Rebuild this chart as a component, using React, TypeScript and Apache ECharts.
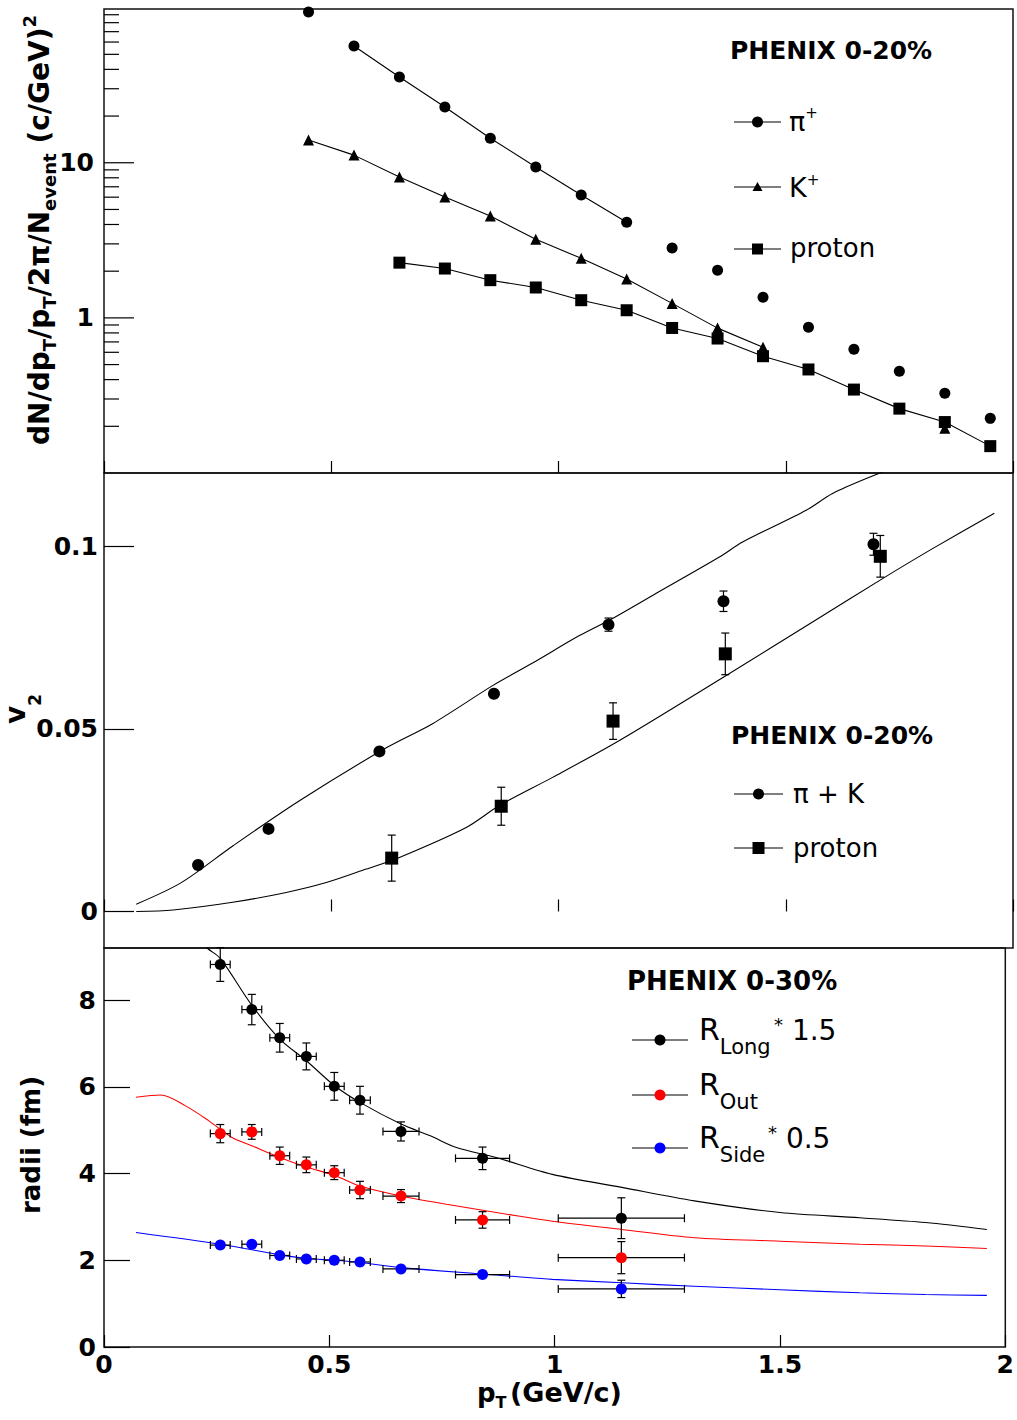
import React, { useEffect, useRef } from "react";
import * as echarts from "echarts";

const FONT = "DejaVu Sans";

// ---------- Top panel: invariant spectra ----------
const pionPt = [0.45, 0.55, 0.65, 0.75, 0.85, 0.95, 1.05, 1.15, 1.25, 1.35, 1.45, 1.55, 1.65, 1.75, 1.85, 1.95];
const pionSpec = [93.8, 56.6, 35.7, 22.9, 14.4, 9.38, 6.19, 4.14, 2.82, 2.03, 1.36, 0.87, 0.628, 0.453, 0.327, 0.225];
const pionFitPt = [0.55, 0.65, 0.75, 0.85, 0.95, 1.05, 1.15];
const pionFit = [56.6, 35.7, 22.9, 14.4, 9.38, 6.19, 4.14];

const kaonPt = [0.45, 0.55, 0.65, 0.75, 0.85, 0.95, 1.05, 1.15, 1.25, 1.35, 1.45, 1.85];
const kaonSpec = [14.0, 11.2, 8.09, 6.01, 4.53, 3.21, 2.42, 1.78, 1.24, 0.859, 0.647, 0.194];
const kaonFitPt = [0.45, 0.55, 0.65, 0.75, 0.85, 0.95, 1.05, 1.15, 1.25, 1.35, 1.45];
const kaonFit = [14.0, 11.2, 8.09, 6.01, 4.53, 3.21, 2.42, 1.78, 1.24, 0.859, 0.647];

const protonPt = [0.65, 0.75, 0.85, 0.95, 1.05, 1.15, 1.25, 1.35, 1.45, 1.55, 1.65, 1.75, 1.85, 1.95];
const protonSpec = [2.27, 2.08, 1.75, 1.57, 1.30, 1.12, 0.861, 0.736, 0.566, 0.465, 0.345, 0.260, 0.213, 0.149];

const specMajorTicks = [1, 10];
const specMinorTicks = [0.2, 0.3, 0.4, 0.5, 0.6, 0.7, 0.8, 0.9, 2, 3, 4, 5, 6, 7, 8, 9, 20, 30, 40, 50, 60, 70, 80, 90];

// ---------- Middle panel: v2 ----------
const v2PiKPt = [0.207, 0.362, 0.606, 0.858, 1.110, 1.363, 1.693];
const v2PiK = [0.0127, 0.0226, 0.0438, 0.0596, 0.0785, 0.0849, 0.1005];
const v2PiKErr = [0.0008, 0.0008, 0.0008, 0.001, 0.0018, 0.0028, 0.003];

const v2ProtonPt = [0.633, 0.874, 1.120, 1.367, 1.708];
const v2Proton = [0.0146, 0.0288, 0.0521, 0.0705, 0.0972];
const v2ProtonErr = [0.0063, 0.0052, 0.005, 0.0057, 0.0057];

const v2PiKModelPt = [0.071, 0.17, 0.284, 0.43, 0.621, 0.723, 0.855, 0.943, 1.046, 1.119, 1.207, 1.354, 1.405, 1.545, 1.603, 1.695, 1.73];
const v2PiKModel = [0.002, 0.0079, 0.018, 0.0303, 0.0448, 0.0514, 0.0618, 0.068, 0.0755, 0.0802, 0.0865, 0.097, 0.1011, 0.1098, 0.1144, 0.1194, 0.121];
const v2ProtonModelPt = [0.071, 0.152, 0.283, 0.401, 0.489, 0.577, 0.65, 0.797, 0.870, 0.987, 1.134, 1.369, 1.559, 1.713, 1.823, 1.959];
const v2ProtonModel = [0.0, 0.0004, 0.0025, 0.0052, 0.0079, 0.0116, 0.0148, 0.023, 0.029, 0.0367, 0.0468, 0.0646, 0.0792, 0.0911, 0.0993, 0.109];
const v2TickValues = [0, 0.05, 0.1];

// ---------- Bottom panel: HBT radii ----------
const hbtPt = [0.258, 0.328, 0.39, 0.449, 0.511, 0.568, 0.659, 0.84, 1.148];
const hbtPtErr = [0.022, 0.022, 0.022, 0.022, 0.022, 0.023, 0.04, 0.06, 0.14];
const rLong = [8.82, 7.78, 7.13, 6.70, 6.01, 5.69, 4.97, 4.35, 2.97];
const rLongErr = [0.39, 0.35, 0.33, 0.31, 0.32, 0.32, 0.22, 0.26, 0.47];
const rOut = [4.92, 4.96, 4.41, 4.20, 4.02, 3.62, 3.48, 2.93, 2.06];
const rOutErr = [0.21, 0.17, 0.2, 0.18, 0.16, 0.2, 0.15, 0.19, 0.37];
const rSide = [2.35, 2.37, 2.11, 2.03, 2.0, 1.96, 1.80, 1.67, 1.34];
const rSideErr = [0.06, 0.06, 0.06, 0.05, 0.05, 0.05, 0.05, 0.05, 0.2];

const rLongModelPt = [0.215, 0.229, 0.258, 0.328, 0.39, 0.449, 0.511, 0.568, 0.659, 0.724, 0.782, 0.87, 0.995, 1.149, 1.31, 1.5, 1.677, 1.823, 1.959];
const rLongModel = [9.4, 9.2, 8.96, 7.88, 7.1, 6.6, 6.03, 5.64, 5.14, 4.87, 4.6, 4.37, 3.98, 3.68, 3.37, 3.10, 2.98, 2.87, 2.71];
const rOutModelPt = [0.071, 0.126, 0.181, 0.232, 0.284, 0.328, 0.39, 0.449, 0.511, 0.568, 0.659, 0.76, 0.907, 0.995, 1.149, 1.31, 1.5, 1.677, 1.823, 1.959];
const rOutModel = [5.76, 5.81, 5.56, 5.22, 4.83, 4.64, 4.37, 4.15, 3.96, 3.71, 3.48, 3.29, 3.04, 2.90, 2.71, 2.52, 2.44, 2.37, 2.33, 2.27];
const rSideModelPt = [0.071, 0.258, 0.39, 0.449, 0.511, 0.568, 0.659, 0.907, 0.995, 1.149, 1.31, 1.5, 1.677, 1.823, 1.959];
const rSideModel = [2.64, 2.37, 2.13, 2.04, 2.0, 1.95, 1.83, 1.63, 1.56, 1.48, 1.40, 1.32, 1.25, 1.21, 1.19];
const hbtTickValues = [0, 2, 4, 6, 8];

// ---------- helpers ----------
let measureCtx: CanvasRenderingContext2D | null = null;
function measure(t: string, size: number, weight: string) {
  if (!measureCtx) measureCtx = document.createElement("canvas").getContext("2d");
  measureCtx!.font = `${weight} ${size}px "${FONT}"`;
  return measureCtx!.measureText(t).width;
}

type Part = { t: string; s: number; w?: string; dy?: number; x?: number };
function runs(parts: Part[], x0: number, baseline: number, color = "#000") {
  let x = x0;
  const out: any[] = [];
  for (const p of parts) {
    const w = p.w || "normal";
    if (p.x !== undefined) x = p.x;
    out.push({
      type: "text",
      x,
      y: baseline + (p.dy || 0) - 0.35 * p.s,
      z: 20,
      style: { text: p.t, fontSize: p.s, fontWeight: w, fontFamily: FONT, fill: color, align: "left", verticalAlign: "middle" },
    });
    x += measure(p.t, p.s, w);
  }
  return out;
}
function runsWidth(parts: Part[]) {
  return parts.reduce((a, p) => a + measure(p.t, p.s, p.w || "normal"), 0);
}

function legendMark(x1: number, x2: number, y: number, shape: string, color: string, size: number) {
  const cx = (x1 + x2) / 2;
  const els: any[] = [
    { type: "line", z: 20, shape: { x1, y1: y, x2, y2: y }, style: { stroke: "#000", lineWidth: 1.2 } },
  ];
  const h = size / 2;
  if (shape === "circle") els.push({ type: "circle", z: 21, shape: { cx, cy: y, r: h }, style: { fill: color } });
  if (shape === "rect") els.push({ type: "rect", z: 21, shape: { x: cx - h, y: y - h, width: size, height: size }, style: { fill: color } });
  if (shape === "triangle")
    els.push({ type: "polygon", z: 21, shape: { points: [[cx, y - h], [cx + h, y + h * 0.8], [cx - h, y + h * 0.8]] }, style: { fill: color } });
  return els;
}

const zip = (xs: number[], ys: number[]) => xs.map((x, i) => [x, ys[i]]);

function errSeries(gi: number, xs: number[], ys: number[], exs: number[] | null, eys: number[]) {
  return {
    type: "custom",
    xAxisIndex: gi,
    yAxisIndex: gi,
    silent: true,
    z: 3,
    data: xs.map((x, i) => [x, ys[i], exs ? exs[i] : 0, eys[i]]),
    renderItem: (_p: any, api: any) => {
      const x = api.value(0), y = api.value(1), ex = api.value(2), ey = api.value(3);
      const st = { stroke: "#000", lineWidth: 1.2 };
      const cap = 4;
      const ch: any[] = [];
      if (ey > 0) {
        const t = api.coord([x, y + ey]);
        const b = api.coord([x, y - ey]);
        ch.push({ type: "line", shape: { x1: t[0], y1: t[1], x2: b[0], y2: b[1] }, style: st });
        ch.push({ type: "line", shape: { x1: t[0] - cap, y1: t[1], x2: t[0] + cap, y2: t[1] }, style: st });
        ch.push({ type: "line", shape: { x1: b[0] - cap, y1: b[1], x2: b[0] + cap, y2: b[1] }, style: st });
      }
      if (ex > 0) {
        const l = api.coord([x - ex, y]);
        const r = api.coord([x + ex, y]);
        ch.push({ type: "line", shape: { x1: l[0], y1: l[1], x2: r[0], y2: r[1] }, style: st });
        ch.push({ type: "line", shape: { x1: l[0], y1: l[1] - cap, x2: l[0], y2: l[1] + cap }, style: st });
        ch.push({ type: "line", shape: { x1: r[0], y1: r[1] - cap, x2: r[0], y2: r[1] + cap }, style: st });
      }
      return { type: "group", children: ch };
    },
  };
}

function tickSeries(values: number[], len: number) {
  return {
    type: "custom",
    xAxisIndex: 0,
    yAxisIndex: 0,
    silent: true,
    z: 4,
    data: values.map((v) => [0, v]),
    renderItem: (_p: any, api: any) => {
      const p = api.coord([api.value(0), api.value(1)]);
      return { type: "line", shape: { x1: p[0], y1: p[1], x2: p[0] + len, y2: p[1] }, style: { stroke: "#000", lineWidth: 1.2 } };
    },
  };
}

function buildOption() {
  const L = 104, W = 909;
  const labelStyle = { fontFamily: FONT, fontWeight: "bold", fontSize: 25, color: "#000" };
  const tickLine = { color: "#000", width: 1.2 };
  const xAxis = (gi: number, show: boolean) => ({
    type: "value",
    gridIndex: gi,
    min: 0,
    max: 2,
    interval: 0.5,
    axisLine: { show: false },
    splitLine: { show: false },
    axisTick: { show: true, inside: true, length: 12, lineStyle: tickLine },
    axisLabel: { show: show, margin: 5, ...labelStyle, formatter: (v: number) => String(+v.toFixed(2)) },
  });

  const fitLine = (gi: number, xs: number[], ys: number[], color = "#000", smooth = false) => ({
    type: "line",
    xAxisIndex: gi,
    yAxisIndex: gi,
    data: zip(xs, ys),
    symbol: "none",
    smooth: smooth ? 0.3 : false,
    lineStyle: { color, width: 1.1 },
    silent: true,
    z: 2,
  });
  const pts = (gi: number, xs: number[], ys: number[], symbol: string, size: number, color = "#000") => ({
    type: "scatter",
    xAxisIndex: gi,
    yAxisIndex: gi,
    data: zip(xs, ys),
    symbol,
    symbolSize: size,
    itemStyle: { color, opacity: 1 },
    silent: true,
    z: 5,
  });

  // ---- texts ----
  const graphics: any[] = [];
  // top legend
  graphics.push(...runs([{ t: "PHENIX 0-20%", s: 25, w: "bold" }], 730, 59));
  graphics.push(...legendMark(734, 781, 122, "circle", "#000", 11));
  graphics.push(...runs([{ t: "π", s: 27 }, { t: "+", s: 15, dy: -13 }], 789, 131));
  graphics.push(...legendMark(734, 781, 187, "triangle", "#000", 10));
  graphics.push(...runs([{ t: "K", s: 27 }, { t: "+", s: 15, dy: -12 }], 789, 197));
  graphics.push(...legendMark(734, 781, 249, "rect", "#000", 11));
  graphics.push(...runs([{ t: "proton", s: 26 }], 790, 257));

  // middle legend
  graphics.push(...runs([{ t: "PHENIX 0-20%", s: 25, w: "bold" }], 731, 744));
  graphics.push(...legendMark(734, 783, 794, "circle", "#000", 11));
  graphics.push(...runs([{ t: "π + K", s: 26 }], 793, 803));
  graphics.push(...legendMark(734, 783, 848, "rect", "#000", 12));
  graphics.push(...runs([{ t: "proton", s: 26 }], 793, 857));

  // bottom legend
  graphics.push(...runs([{ t: "PHENIX 0-30%", s: 26, w: "bold" }], 627, 990));
  const legY = [1040, 1095, 1148];
  const legCol = ["#000", "#ff0000", "#0000ff"];
  const legSub = ["Long", "Out", "Side"];
  const legFac = ["1.5", "", "0.5"];
  legY.forEach((y, i) => {
    graphics.push(...legendMark(632, 688, y, "circle", legCol[i], 11));
    graphics.push(...runs([{ t: "R", s: 30 }, { t: legSub[i], s: 21, dy: 14 }], 699, y));
    if (legFac[i]) {
      graphics.push(...runs([{ t: "*", s: 18, dy: -9, x: legSub[i] === "Long" ? 774 : 768 }, { t: " " + legFac[i], s: 28 }], 0, y));
    }
  });

  // y title top (rotated)
  const topTitle: Part[] = [
    { t: "dN/dp", s: 28, w: "bold" },
    { t: "T", s: 18, w: "bold", dy: 7 },
    { t: "/p", s: 28, w: "bold" },
    { t: "T", s: 18, w: "bold", dy: 7 },
    { t: "/2π/N", s: 28, w: "bold" },
    { t: "event", s: 18, w: "bold", dy: 7 },
    { t: " (c/GeV)", s: 28, w: "bold" },
    { t: "2", s: 18, w: "bold", dy: -13 },
  ];
  const tw = runsWidth(topTitle);
  graphics.push({ type: "group", x: 49, y: 230 + tw / 2, rotation: Math.PI / 2, children: runs(topTitle, 0, 0) });

  const midTitle: Part[] = [
    { t: "v", s: 28, w: "bold" },
    { t: "2", s: 17, w: "bold", dy: 16 },
  ];
  graphics.push({ type: "group", x: 25, y: 724, rotation: Math.PI / 2, children: runs(midTitle, 0, 0) });

  const botTitle: Part[] = [{ t: "radii (fm)", s: 26, w: "bold" }];
  const bw = runsWidth(botTitle);
  graphics.push({ type: "group", x: 40, y: 1145 + bw / 2, rotation: Math.PI / 2, children: runs(botTitle, 0, 0) });

  // x title
  graphics.push(
    ...runs(
      [
        { t: "p", s: 26, w: "bold" },
        { t: "T", s: 16, w: "bold", dy: 6 },
        { t: "(GeV/c)", s: 27, w: "bold", x: 510 },
      ],
      477,
      1402
    )
  );

  return {
    animation: false,
    backgroundColor: "#fff",
    grid: [
      { left: L, top: 9, width: W, height: 464, show: true, borderColor: "#111", borderWidth: 1.5, backgroundColor: "transparent" },
      { left: L, top: 473, width: W, height: 475, show: true, borderColor: "#111", borderWidth: 1.5, backgroundColor: "transparent" },
      { left: L, top: 948, width: W, height: 399, show: true, borderColor: "#111", borderWidth: 1.5, backgroundColor: "transparent" },
    ],
    xAxis: [xAxis(0, false), xAxis(1, false), xAxis(2, true)],
    yAxis: [
      {
        type: "log",
        gridIndex: 0,
        logBase: 10,
        min: 0.1,
        max: 98,
        axisLine: { show: false },
        axisTick: { show: false },
        splitLine: { show: false },
        axisLabel: {
          margin: 10,
          ...labelStyle,
          formatter: (v: number) => (Math.abs(v - 1) < 1e-6 ? "1" : Math.abs(v - 10) < 1e-5 ? "10" : ""),
        },
      },
      {
        type: "value",
        gridIndex: 1,
        min: -0.01,
        max: 0.12,
        axisLine: { show: false },
        splitLine: { show: false },
        axisTick: { show: true, inside: true, length: 30, lineStyle: tickLine, customValues: v2TickValues },
        axisLabel: { margin: 6, ...labelStyle, customValues: v2TickValues, formatter: (v: number) => String(+v.toFixed(3)) },
      },
      {
        type: "value",
        gridIndex: 2,
        min: 0,
        max: 9.2,
        interval: 2,
        axisLine: { show: false },
        splitLine: { show: false },
        axisTick: { show: true, inside: true, length: 26, lineStyle: tickLine, customValues: hbtTickValues },
        axisLabel: {
          margin: 8,
          ...labelStyle,
          customValues: hbtTickValues,
          formatter: (v: number) => (Math.abs(v / 2 - Math.round(v / 2)) < 1e-6 ? String(Math.round(v)) : ""),
        },
      },
    ],
    graphic: { elements: graphics },
    series: [
      // top
      fitLine(0, pionFitPt, pionFit),
      fitLine(0, kaonFitPt, kaonFit),
      fitLine(0, protonPt, protonSpec),
      pts(0, pionPt, pionSpec, "circle", 11),
      pts(0, kaonPt, kaonSpec, "triangle", 11),
      pts(0, protonPt, protonSpec, "rect", 12),
      tickSeries(specMajorTicks, 30),
      tickSeries(specMinorTicks, 15),
      // middle
      fitLine(1, v2PiKModelPt, v2PiKModel, "#000", true),
      fitLine(1, v2ProtonModelPt, v2ProtonModel, "#000", true),
      errSeries(1, v2PiKPt, v2PiK, null, v2PiKErr),
      errSeries(1, v2ProtonPt, v2Proton, null, v2ProtonErr),
      pts(1, v2PiKPt, v2PiK, "circle", 12),
      pts(1, v2ProtonPt, v2Proton, "rect", 13),
      // bottom
      fitLine(2, rLongModelPt, rLongModel, "#000", true),
      fitLine(2, rOutModelPt, rOutModel, "#ff0000", true),
      fitLine(2, rSideModelPt, rSideModel, "#0000ff", true),
      errSeries(2, hbtPt, rLong, hbtPtErr, rLongErr),
      errSeries(2, hbtPt, rOut, hbtPtErr, rOutErr),
      errSeries(2, hbtPt, rSide, hbtPtErr, rSideErr),
      pts(2, hbtPt, rLong, "circle", 11, "#000"),
      pts(2, hbtPt, rOut, "circle", 11, "#ff0000"),
      pts(2, hbtPt, rSide, "circle", 11, "#0000ff"),
    ],
  };
}

export default function App() {
  const ref = useRef<HTMLDivElement>(null);
  useEffect(() => {
    const chart = echarts.init(ref.current!, null, { renderer: "svg" });
    chart.setOption(buildOption() as any);
    return () => chart.dispose();
  }, []);
  return (
    <div
      ref={ref}
      style={{ position: "fixed", left: 0, top: 0, width: 1017, height: 1420, background: "#fff" }}
    />
  );
}
